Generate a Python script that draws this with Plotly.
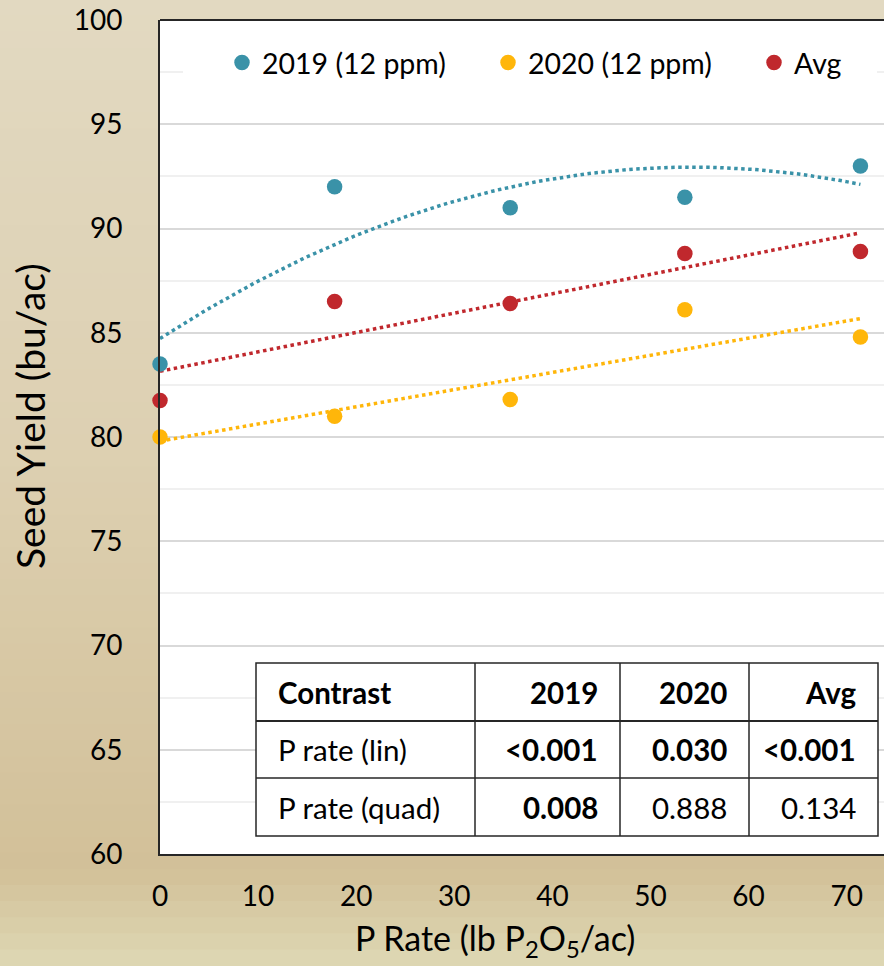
import numpy as np
import plotly.graph_objects as go

# ---------------- data ----------------
p_rate = [0, 17.8, 35.7, 53.5, 71.4]
y2019 = [83.5, 92.0, 91.0, 91.5, 93.0]
y2020 = [80.0, 81.0, 81.8, 86.1, 84.8]
y_avg = [81.75, 86.5, 86.4, 88.8, 88.9]
series_names = ["2019 (12 ppm)", "2020 (12 ppm)", "Avg"]
fit_degree = [2, 1, 1]

table_header = ["Contrast", "2019", "2020", "Avg"]
table_rows = [
    ["P rate (lin)", "<0.001", "0.030", "<0.001"],
    ["P rate (quad)", "0.008", "0.888", "0.134"],
]
table_bold = [
    [False, True, True, True],
    [False, True, False, False],
]

# ---------------- style ----------------
colors = ["#3A92A8", "#FFB60A", "#C0282D"]
legend_widths = [221, 221, 60]
FONT = "Lato"
W, H = 884, 966
ML, MR, MT, MB = 160, 0, 20, 112
PW, PH = W - ML - MR, H - MT - MB


def px(x):
    return (x - ML) / PW


def py(y):
    return (H - MB - y) / PH


fig = go.Figure()

ys = [y2019, y2020, y_avg]
xs = np.array(p_rate)
xfit = np.linspace(min(p_rate), max(p_rate), 100)
for name, yv, c, deg in zip(series_names, ys, colors, fit_degree):
    coef = np.polyfit(xs, np.array(yv), deg)
    fig.add_trace(go.Scatter(x=xfit, y=np.polyval(coef, xfit), mode="lines",
                             line=dict(color=c, width=3.5, dash="dot"),
                             showlegend=False, hoverinfo="skip"))
for name, yv, c, lw in zip(series_names, ys, colors, legend_widths):
    fig.add_trace(go.Scatter(x=p_rate, y=yv, mode="markers", name=name,
                             marker=dict(color=c, size=15.5, line=dict(width=0)),
                             legendwidth=lw, cliponaxis=False))

shapes = []
# background gradient (vertical)
stops = [(0, (226, 217, 193)), (450, (221, 208, 178)), (870, (210, 192, 152)), (966, (222, 216, 180))]
nb = 60
for i in range(nb):
    y0 = H * i / nb
    y1 = H * (i + 1) / nb
    ym = (y0 + y1) / 2
    for (a, ca), (b, cb) in zip(stops[:-1], stops[1:]):
        if a <= ym <= b:
            t = (ym - a) / (b - a)
            col = tuple(int(round(ca[k] + (cb[k] - ca[k]) * t)) for k in range(3))
            break
    shapes.append(dict(type="rect", xref="paper", yref="paper", layer="below",
                       x0=px(0), x1=px(W), y0=py(y1 + 0.5), y1=py(y0 - 0.5),
                       fillcolor="rgb(%d,%d,%d)" % col, line=dict(width=0)))
# white plot area
shapes.append(dict(type="rect", xref="paper", yref="paper", layer="below",
                   x0=0, x1=1, y0=0, y1=1, fillcolor="white", line=dict(width=0)))
# white legend backdrop covering the minor grid line
shapes.append(dict(type="rect", xref="paper", yref="paper", layer="above",
                   x0=px(183), x1=px(877), y0=py(98), y1=py(40),
                   fillcolor="white", line=dict(width=0)))
# top border
shapes.append(dict(type="line", xref="paper", yref="paper", layer="above",
                   x0=0, x1=1, y0=1, y1=1, line=dict(color="#262626", width=2)))

# table
col_x = [256, 475, 620, 749, 878]
row_y = [663, 721, 778, 836]
shapes.append(dict(type="rect", xref="paper", yref="paper", layer="above",
                   x0=px(col_x[0]), x1=px(col_x[-1]), y0=py(row_y[-1]), y1=py(row_y[0]),
                   fillcolor="white", line=dict(color="#262626", width=1.5)))
for cx in col_x[1:-1]:
    shapes.append(dict(type="line", xref="paper", yref="paper", layer="above",
                       x0=px(cx), x1=px(cx), y0=py(row_y[-1]), y1=py(row_y[0]),
                       line=dict(color="#262626", width=1.5)))
for ry in row_y[1:-1]:
    shapes.append(dict(type="line", xref="paper", yref="paper", layer="above",
                       x0=px(col_x[0]), x1=px(col_x[-1]), y0=py(ry), y1=py(ry),
                       line=dict(color="#262626", width=2 if ry == row_y[1] else 1.5)))

annotations = []
all_rows = [table_header] + table_rows
all_bold = [[True] * 4] + table_bold
for r, (row, bold) in enumerate(zip(all_rows, all_bold)):
    yc = (row_y[r] + row_y[r + 1]) / 2
    for c, (txt, b) in enumerate(zip(row, bold)):
        if c == 0:
            xa, xanchor = col_x[0] + 20, "left"
        else:
            xa, xanchor = col_x[c + 1] - 20, "right"
        annotations.append(dict(x=px(xa), y=py(yc), xref="paper", yref="paper",
                                text="<b>%s</b>" % txt if b else txt, showarrow=False,
                                xanchor=xanchor, yanchor="middle",
                                font=dict(family=FONT, size=29.5, color="black")))

# axis titles
annotations.append(dict(x=px(30), y=py(416), xref="paper", yref="paper",
                        text="Seed Yield (bu/ac)", textangle=-90, showarrow=False,
                        xanchor="center", yanchor="middle",
                        font=dict(family=FONT, size=39, color="black")))
annotations.append(dict(x=px(495), y=py(940), xref="paper", yref="paper",
                        text="P Rate (lb P<sub>2</sub>O<sub>5</sub>/ac)", showarrow=False,
                        xanchor="center", yanchor="middle",
                        font=dict(family=FONT, size=34, color="black")))

fig.update_layout(
    width=W, height=H,
    margin=dict(l=ML, r=MR, t=MT, b=MB, pad=0),
    paper_bgcolor="rgb(226,217,193)",
    plot_bgcolor="rgba(0,0,0,0)",
    font=dict(family=FONT, size=28, color="black"),
    shapes=shapes,
    annotations=annotations,
    legend=dict(orientation="h", x=px(222), xanchor="left", y=py(63), yanchor="middle",
                bgcolor="rgba(0,0,0,0)", font=dict(family=FONT, size=28.5, color="black"),
                entrywidthmode="pixels", itemsizing="trace", tracegroupgap=0),
    showlegend=True,
)
fig.update_xaxes(range=[0, PW / 9.81], tickmode="array", tickvals=[0, 10, 20, 30, 40, 50, 60, 70],
                 showgrid=False, zeroline=False, showline=True, linecolor="#262626", linewidth=2,
                 ticks="", ticklabelstandoff=16, tickfont=dict(family=FONT, size=28, color="black"))
fig.update_yaxes(range=[60, 100], dtick=5, tick0=60,
                 showgrid=True, gridcolor="#D9D9D9", gridwidth=1.5,
                 minor=dict(dtick=2.5, tick0=60, showgrid=True, gridcolor="#F0F0F0", gridwidth=1.5),
                 zeroline=False, showline=True, linecolor="#262626", linewidth=2,
                 ticks="", ticklabelstandoff=30, tickfont=dict(family=FONT, size=28, color="black"))

fig.write_html("out.html")
